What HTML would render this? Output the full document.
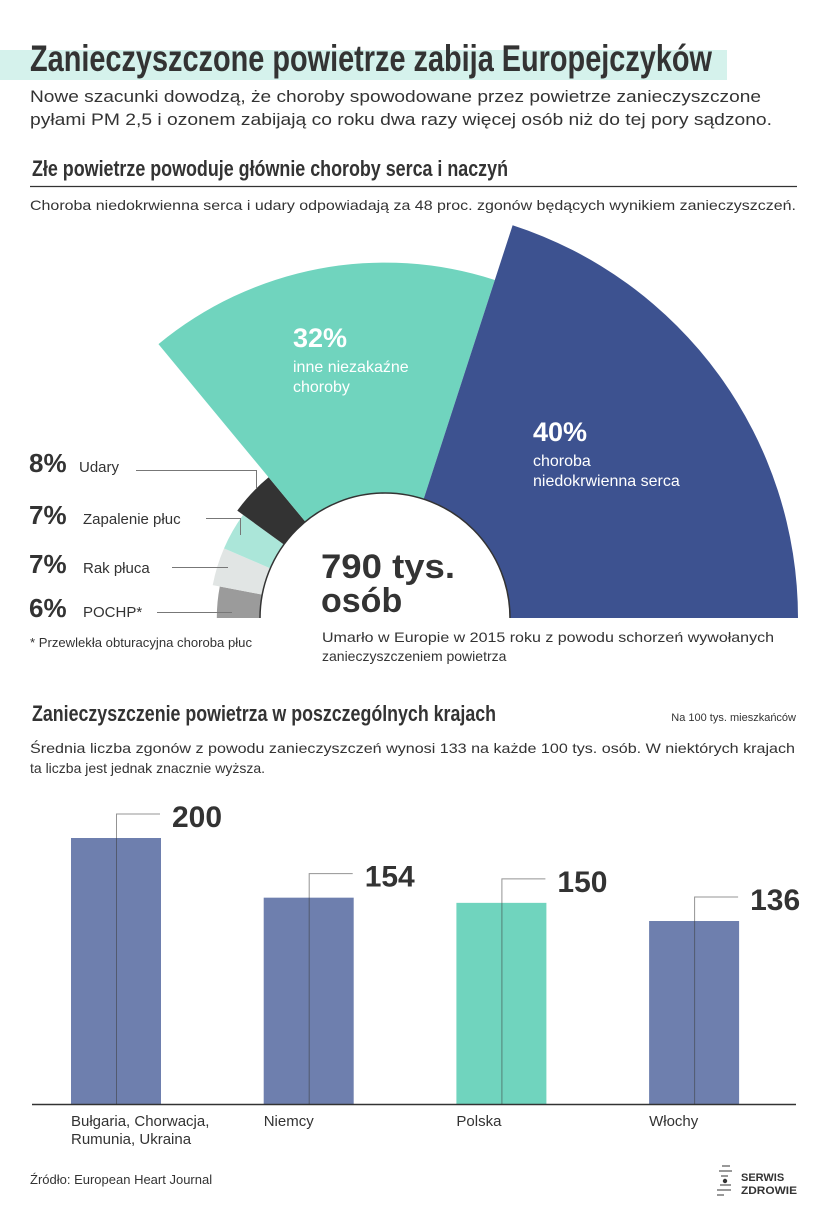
<!DOCTYPE html>
<html><head><meta charset="utf-8"><style>
html,body{margin:0;padding:0;background:#fff;}
svg{display:block;font-family:"Liberation Sans",sans-serif;}
.n{font-family:"Liberation Sans Narrow","Liberation Sans",sans-serif;}
</style></head><body>
<svg id="root" width="826" height="1219" viewBox="0 0 826 1219" xmlns="http://www.w3.org/2000/svg">
<rect x="0" y="50" width="727" height="30" fill="#d5f2ec"/>
<text class="n" x="30" y="71" font-size="37" font-weight="bold" fill="#333" textLength="682" lengthAdjust="spacingAndGlyphs">Zanieczyszczone powietrze zabija Europejczyków</text>
<text x="30" y="102" font-size="17" fill="#333" textLength="731" lengthAdjust="spacingAndGlyphs">Nowe szacunki dowodzą, że choroby spowodowane przez powietrze zanieczyszczone</text>
<text x="30" y="125" font-size="17" fill="#333" textLength="742" lengthAdjust="spacingAndGlyphs">pyłami PM 2,5 i ozonem zabijają co roku dwa razy więcej osób niż do tej pory sądzono.</text>
<text class="n" x="32" y="176" font-size="22" font-weight="bold" fill="#333" textLength="476" lengthAdjust="spacingAndGlyphs">Złe powietrze powoduje głównie choroby serca i naczyń</text>
<line x1="30" y1="186.5" x2="797" y2="186.5" stroke="#333" stroke-width="1.2"/>
<text x="30" y="210" font-size="14" fill="#333" textLength="766" lengthAdjust="spacingAndGlyphs">Choroba niedokrwienna serca i udary odpowiadają za 48 proc. zgonów będących wynikiem zanieczyszczeń.</text>

<g id="pie"></g>

<line x1="136" y1="470.5" x2="256.5" y2="470.5" stroke="#777"/>
<line x1="256.5" y1="470" x2="256.5" y2="488" stroke="#777"/>
<line x1="206" y1="518.5" x2="240.5" y2="518.5" stroke="#777"/>
<line x1="240.5" y1="518" x2="240.5" y2="535" stroke="#777"/>
<line x1="172" y1="567.5" x2="228" y2="567.5" stroke="#777"/>
<line x1="157" y1="612.5" x2="232" y2="612.5" stroke="#777"/>
<g fill="#333">
<text x="29" y="472" font-size="26" font-weight="bold">8%</text>
<text x="79" y="472" font-size="15">Udary</text>
<text x="29" y="524" font-size="26" font-weight="bold">7%</text>
<text x="83" y="524" font-size="15">Zapalenie płuc</text>
<text x="29" y="573" font-size="26" font-weight="bold">7%</text>
<text x="83" y="573" font-size="15">Rak płuca</text>
<text x="29" y="617" font-size="26" font-weight="bold">6%</text>
<text x="83" y="617" font-size="15">POCHP*</text>
<text x="30" y="647" font-size="12.5" textLength="222" lengthAdjust="spacingAndGlyphs">* Przewlekła obturacyjna choroba płuc</text>
</g>
<g fill="#fff">
<text x="293" y="347" font-size="27" font-weight="bold">32%</text>
<text x="293" y="372" font-size="16">inne niezakaźne</text>
<text x="293" y="392" font-size="16">choroby</text>
<text x="533" y="441" font-size="27" font-weight="bold">40%</text>
<text x="533" y="466" font-size="16">choroba</text>
<text x="533" y="486" font-size="16">niedokrwienna serca</text>
</g>
<text x="321" y="578" font-size="34" font-weight="bold" fill="#333" textLength="134" lengthAdjust="spacingAndGlyphs">790 tys.</text>
<text x="321" y="612" font-size="34" font-weight="bold" fill="#333">osób</text>
<text x="322" y="642" font-size="14" fill="#333" textLength="452" lengthAdjust="spacingAndGlyphs">Umarło w Europie w 2015 roku z powodu schorzeń wywołanych</text>
<text x="322" y="661" font-size="14" fill="#333">zanieczyszczeniem powietrza</text>

<text class="n" x="32" y="721" font-size="22" font-weight="bold" fill="#333" textLength="464" lengthAdjust="spacingAndGlyphs">Zanieczyszczenie powietrza w poszczególnych krajach</text>
<text x="796" y="721" font-size="11" fill="#333" text-anchor="end">Na 100 tys. mieszkańców</text>
<text x="30" y="753" font-size="14" fill="#333" textLength="765" lengthAdjust="spacingAndGlyphs">Średnia liczba zgonów z powodu zanieczyszczeń wynosi 133 na każde 100 tys. osób. W niektórych krajach</text>
<text x="30" y="773" font-size="14" fill="#333">ta liczba jest jednak znacznie wyższa.</text>

<g id="bars"></g>
<line x1="32" y1="1104.5" x2="796" y2="1104.5" stroke="#333" stroke-width="1.5"/>

<text x="30" y="1184" font-size="13" fill="#333">Źródło: European Heart Journal</text>
<g fill="#333">
<g stroke="#555" stroke-width="1.2">
<line x1="722" y1="1166" x2="730" y2="1166"/><line x1="719" y1="1171" x2="732" y2="1171"/>
<line x1="721" y1="1176" x2="728" y2="1176"/><line x1="720" y1="1185" x2="731" y2="1185"/>
<line x1="717" y1="1190" x2="731" y2="1190"/><line x1="717" y1="1195" x2="724" y2="1195"/>
</g>
<circle cx="725" cy="1181" r="2.2"/>
<text x="741" y="1181" font-size="11" font-weight="bold">SERWIS</text>
<text x="741" y="1194" font-size="11" font-weight="bold" textLength="56" lengthAdjust="spacingAndGlyphs">ZDROWIE</text>
</g>
</svg>
<script>
// Rose chart data
const pieLabels = ["POCHP", "Rak płuca", "Zapalenie płuc", "Udary", "Inne niezakaźne choroby", "Choroba niedokrwienna serca"];
const pieValues = [6, 7, 7, 8, 32, 40];
const pieColors = ["#9b9b9b", "#e1e5e4", "#abe6d9", "#333333", "#70d4be", "#3d5290"];
// Bar chart data
const barCategories = ["Bułgaria, Chorwacja, Rumunia, Ukraina", "Niemcy", "Polska", "Włochy"];
const barValues = [200, 154, 150, 136];
const barColors = ["#6e7fae", "#6e7fae", "#70d4be", "#6e7fae"];

const NS = "http://www.w3.org/2000/svg";
const cx = 385, cy = 618, r0 = 125;
function rScale(v){ return r0 + 7.2 * v; }
function pt(r, a){ return [cx + r*Math.cos(a), cy - r*Math.sin(a)]; }
const pieG = document.getElementById('pie');
const total = pieValues.reduce((a,b)=>a+b,0);
let ang = Math.PI;
pieValues.forEach((v,i)=>{
  const a0 = ang, a1 = ang - Math.PI * v/total;
  ang = a1;
  const R = rScale(v);
  const p1 = pt(r0,a0), p2 = pt(R,a0), p3 = pt(R,a1), p4 = pt(r0,a1);
  const d = `M${p1[0]},${p1[1]} L${p2[0]},${p2[1]} A${R},${R} 0 0 1 ${p3[0]},${p3[1]} L${p4[0]},${p4[1]} A${r0},${r0} 0 0 0 ${p1[0]},${p1[1]} Z`;
  const path = document.createElementNS(NS,'path');
  path.setAttribute('d', d);
  path.setAttribute('fill', pieColors[i]);
  
  
  pieG.appendChild(path);
});
const inner = document.createElementNS(NS,'path');
inner.setAttribute('d', `M${cx-r0},${cy} A${r0},${r0} 0 0 1 ${cx+r0},${cy}`);
inner.setAttribute('fill', 'none');
inner.setAttribute('stroke', '#333');
inner.setAttribute('stroke-width', '1.5');


pieG.appendChild(inner);

// Bars
const barsG = document.getElementById('bars');
const bw = 90, baseY = 1104;
function yScale(v){ return 1097.4 - 1.297 * v; }
barValues.forEach((v,i)=>{
  const x = 71 + i * 192.7;
  const y = yScale(v);
  const rect = document.createElementNS(NS,'rect');
  rect.setAttribute('x', x); rect.setAttribute('y', y);
  rect.setAttribute('width', bw); rect.setAttribute('height', baseY - y);
  rect.setAttribute('fill', barColors[i]);
  
  
  barsG.appendChild(rect);
  const lx = x + 45.5, ty = y - 24;
  const lead = document.createElementNS(NS,'path');
  lead.setAttribute('d', `M${lx},${baseY} L${lx},${ty} L${x+89},${ty}`);
  lead.setAttribute('fill', 'none');
  lead.setAttribute('stroke', 'rgba(60,60,60,0.55)');
  lead.setAttribute('stroke-width', '1');
  
  
  barsG.appendChild(lead);
  const t = document.createElementNS(NS,'text');
  t.setAttribute('x', x + 101); t.setAttribute('y', ty + 13);
  t.setAttribute('font-size', '30'); t.setAttribute('font-weight', 'bold'); t.setAttribute('fill', '#333');
  t.textContent = v;
  
  
  barsG.appendChild(t);
  const lines = i === 0 ? ["Bułgaria, Chorwacja,", "Rumunia, Ukraina"] : [barCategories[i]];
  lines.forEach((ln,k)=>{
    const c = document.createElementNS(NS,'text');
    c.setAttribute('x', x); c.setAttribute('y', 1126 + k*18);
    c.setAttribute('font-size', '15'); c.setAttribute('fill', '#333');
    c.textContent = ln;
    
    
    barsG.appendChild(c);
  });
});
</script>
</body></html>
